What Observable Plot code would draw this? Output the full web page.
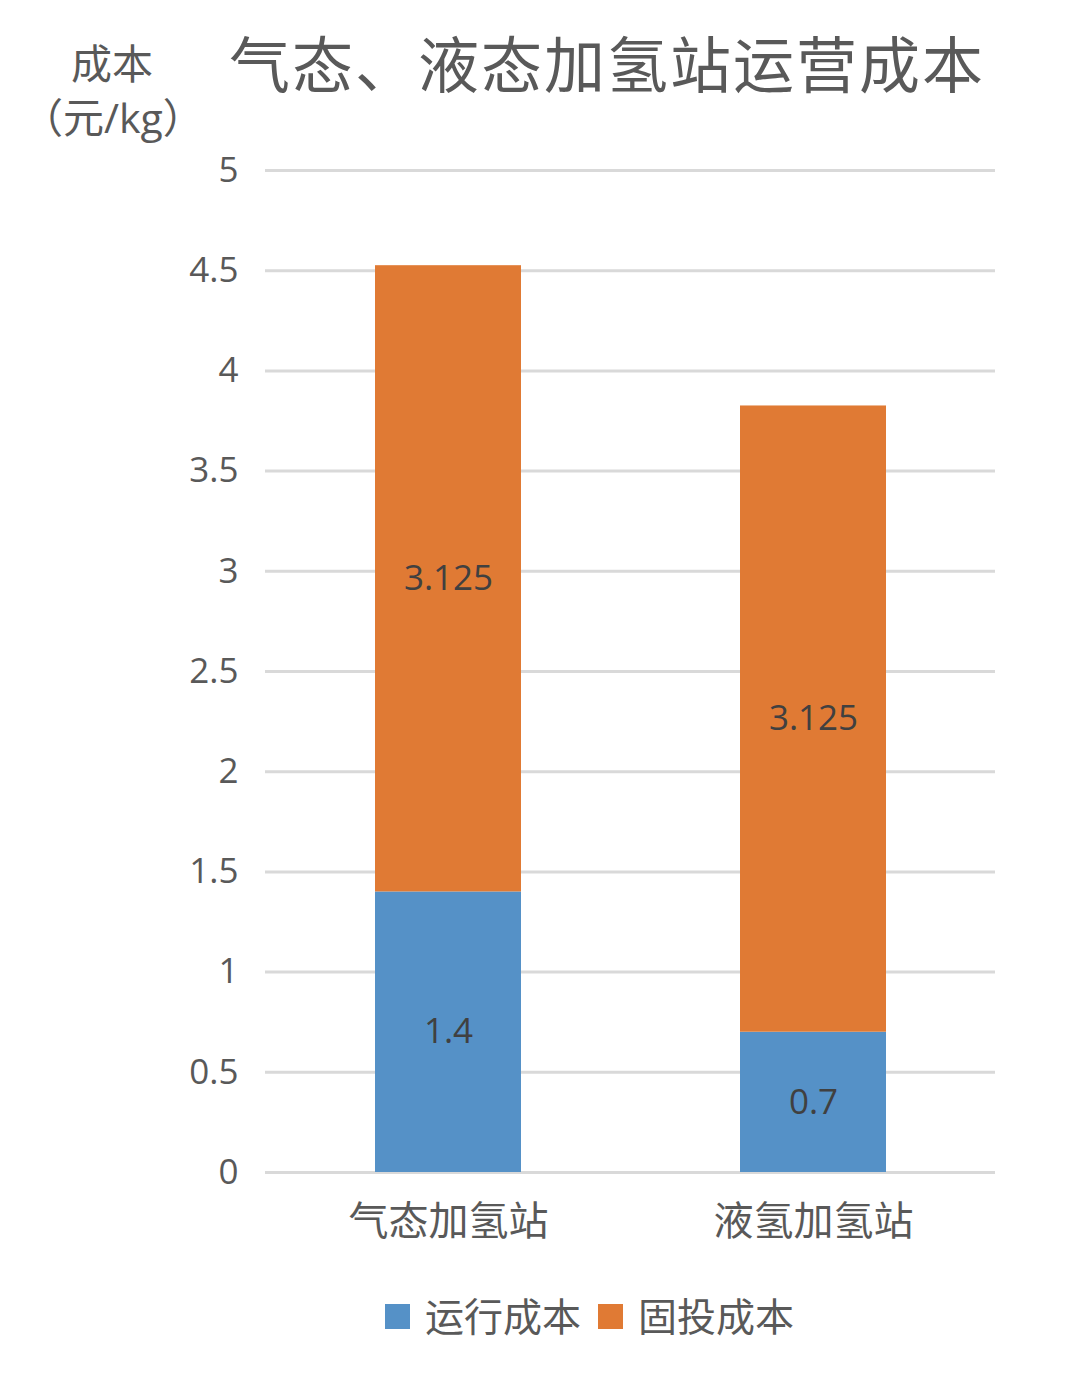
<!DOCTYPE html>
<html>
<head>
<meta charset="utf-8">
<script src="https://cdn.jsdelivr.net/npm/d3@7"></script>
<script src="https://cdn.jsdelivr.net/npm/@observablehq/plot@0.6"></script>
<style>
  html, body { margin: 0; padding: 0; background: #fff; }
  body { font-family: "Open Sans", "Noto Sans CJK SC", sans-serif; color: #595959; }
  #wrap { position: relative; width: 1080px; height: 1380px; }
  #title { position: absolute; left: 229px; top: 27px; font-size: 61px; line-height: 76px; letter-spacing: 2px; white-space: nowrap; }
  #ylabel { position: absolute; left: 22px; top: 36px; width: 180px; text-align: center; font-size: 41px; line-height: 54px; }
  #chart { position: absolute; left: 0; top: 140px; }
  #legend { position: absolute; left: 385px; top: 1290px; font-size: 39px; line-height: 52px; display: flex; align-items: center; white-space: nowrap; }
  #legend .sw { display: inline-block; width: 25px; height: 25px; margin-right: 15px; }
  #legend .item { display: flex; align-items: center; margin-right: 17px; }
</style>
</head>
<body>
<div id="wrap">
  <div id="ylabel">成本<br>（元/kg）</div>
  <div id="title">气态、液态加氢站运营成本</div>
  <div id="chart"></div>
  <div id="legend"></div>
</div>
<script>
// Station types and their cost components (元/kg)
const stations = ["气态加氢站", "液氢加氢站"];
const seriesNames = ["运行成本", "固投成本"];
const runningCost = [1.4, 0.7];
const fixedCost = [3.125, 3.125];
const yTicks = [0, 0.5, 1, 1.5, 2, 2.5, 3, 3.5, 4, 4.5, 5];
const colors = ["#5591C7", "#E07A34"];

const rows = [];
stations.forEach((s, i) => {
  rows.push({station: s, series: seriesNames[0], value: runningCost[i]});
  rows.push({station: s, series: seriesNames[1], value: fixedCost[i]});
});

const font = `"Open Sans", "Noto Sans CJK SC", sans-serif`;

const chart = Plot.plot({
  width: 1080,
  height: 1120,
  marginLeft: 265,
  marginRight: 85,
  marginTop: 30,
  marginBottom: 88,
  style: {fontFamily: font, background: "transparent"},
  x: {domain: stations, paddingInner: 0.6, paddingOuter: 0.3, label: null},
  y: {domain: [0, 5], ticks: yTicks, label: null},
  color: {domain: seriesNames, range: colors},
  marks: [
    Plot.gridY(yTicks, {stroke: "#d9d9d9", strokeOpacity: 1, strokeWidth: 3}),
    Plot.barY(rows, {x: "station", y: "value", fill: "series", order: seriesNames}),
    Plot.text(rows, Plot.stackY({
      x: "station", y: "value", z: "series", order: seriesNames,
      text: d => String(d.value), fill: "#404040", fontSize: 35
    })),
    Plot.axisY(yTicks, {
      tickSize: 0, tickPadding: 27, fontSize: 35, fill: "#595959",
      tickFormat: d => String(d), label: null
    }),
    Plot.axisX({tickSize: 0, tickPadding: 34, fontSize: 40, fill: "#595959", label: null})
  ]
});
document.getElementById("chart").appendChild(chart);

// Legend
const legend = document.getElementById("legend");
seriesNames.forEach((name, i) => {
  const item = document.createElement("span");
  item.className = "item";
  const sw = document.createElement("span");
  sw.className = "sw";
  sw.style.background = colors[i];
  item.appendChild(sw);
  item.appendChild(document.createTextNode(name));
  legend.appendChild(item);
});
</script>
</body>
</html>
